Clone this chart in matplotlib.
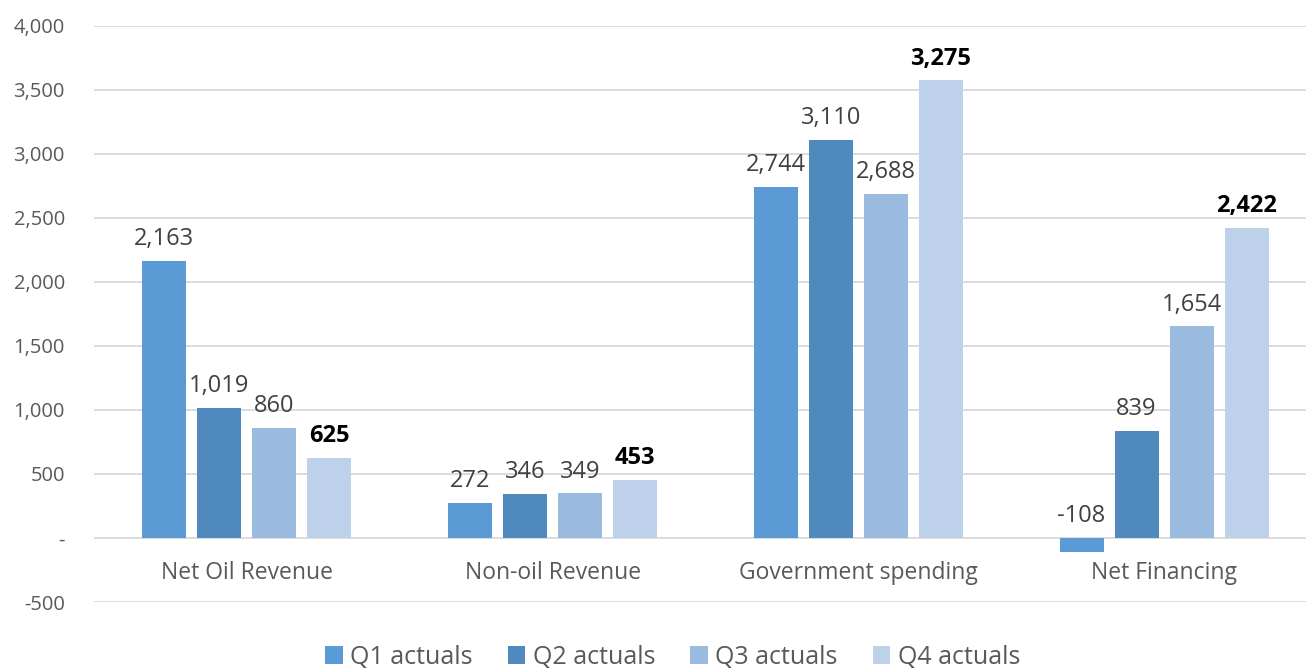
import numpy as np
import matplotlib.pyplot as plt
from matplotlib.ticker import FuncFormatter

# data
categories = ['Net Oil Revenue', 'Non-oil Revenue', 'Government spending', 'Net Financing']
series = ['Q1 actuals', 'Q2 actuals', 'Q3 actuals', 'Q4 actuals']
q1 = [2163, 272, 2744, -108]
q2 = [1019, 346, 3110, 839]
q3 = [860, 349, 2688, 1654]
q4 = [625, 453, 3575, 2422]
# labels as printed on the chart (Q4 government label differs from bar height)
q1_labels = ['2,163', '272', '2,744', '-108']
q2_labels = ['1,019', '346', '3,110', '839']
q3_labels = ['860', '349', '2,688', '1,654']
q4_labels = ['625', '453', '3,275', '2,422']

colors = ['#5B9BD5', '#4F89BE', '#9BBAE0', '#BDD1EB']
FONT = 'Open Sans'
plt.rcParams['font.family'] = [FONT, 'DejaVu Sans']

fig = plt.figure(figsize=(13.06, 6.68), dpi=100)
ax = fig.add_axes([0.072, 0.0988, 0.9364, 0.8623])

x = np.arange(len(categories))
step = 0.18
width = 0.144
all_vals = [q1, q2, q3, q4]
all_labels = [q1_labels, q2_labels, q3_labels, q4_labels]

for i, (vals, labs) in enumerate(zip(all_vals, all_labels)):
    pos = x + (i - 1.5) * step
    ax.bar(pos, vals, width=width, color=colors[i], label=series[i], zorder=2)
    for p, v, t in zip(pos, vals, labs):
        ax.annotate(t, (p, max(v, 0)), xytext=(0, 7), textcoords='offset points',
                    ha='center', va='bottom', fontsize=17,
                    color='black' if i == 3 else '#404040',
                    fontweight='bold' if i == 3 else 'normal')

ax.set_xlim(-0.5, 3.5)
ax.set_ylim(-500, 4000)
ax.set_yticks(np.arange(-500, 4001, 500))
ax.yaxis.set_major_formatter(FuncFormatter(lambda v, _: '-' if v == 0 else f'{int(v):,}'))
ax.tick_params(axis='y', length=0, pad=21, labelsize=14.5, labelcolor='#595959')
ax.set_xticks([])
ax.grid(axis='y', color='#D9D9D9', linewidth=1.3, zorder=0)
for s in ax.spines.values():
    s.set_visible(False)

for xi, c in zip(x, categories):
    ax.annotate(c, (xi, 0), xytext=(0, -25), textcoords='offset points',
                ha='center', va='center', fontsize=16.5, color='#595959')

fig.legend(loc='lower center', bbox_to_anchor=(0.515, -0.036), ncol=4, frameon=False,
           fontsize=18, handlelength=0.7, handleheight=0.7, handletextpad=0.3,
           columnspacing=1.4, labelcolor='#595959')

fig.savefig('out.png', dpi=100)
